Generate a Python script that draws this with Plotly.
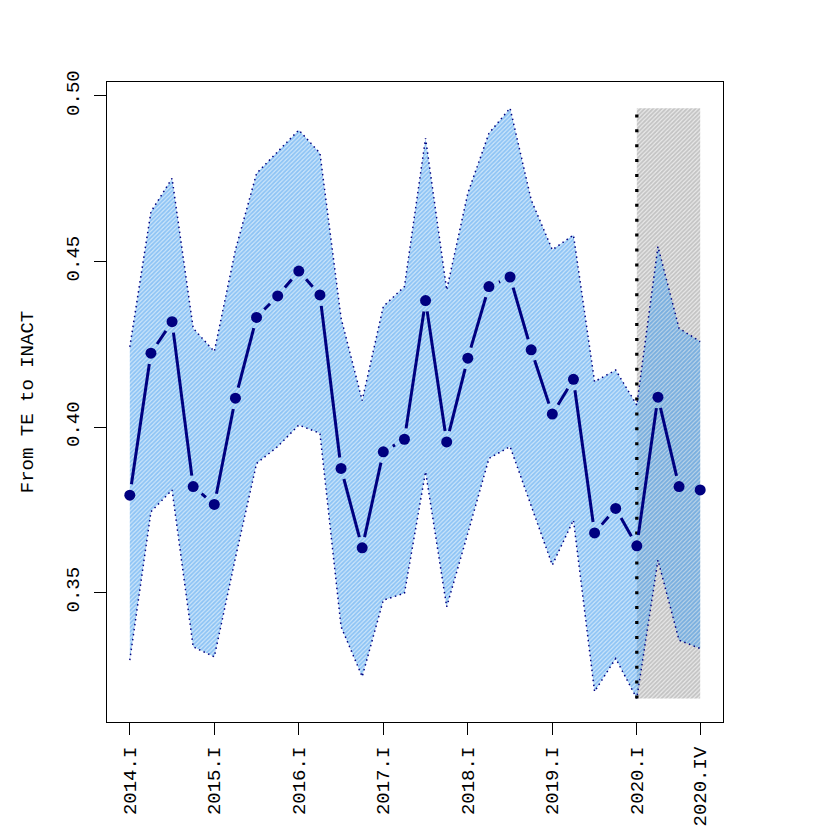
import math
import plotly.graph_objects as go

# ---- data ----
idx = list(range(28))
tick_pos = [0, 4, 8, 12, 16, 20, 24, 27]
tick_labels = ["2014.I", "2015.I", "2016.I", "2017.I", "2018.I", "2019.I", "2020.I", "2020.IV"]

mid = [0.3794, 0.4223, 0.4318, 0.3820, 0.3766, 0.4087, 0.4331, 0.4396, 0.4471, 0.4399,
       0.3875, 0.3635, 0.3925, 0.3963, 0.4382, 0.3955, 0.4208, 0.4424, 0.4453, 0.4233,
       0.4039, 0.4144, 0.3680, 0.3754, 0.3641, 0.4090, 0.3820, 0.3810]
upper = [0.4242, 0.4650, 0.4751, 0.4298, 0.4228, 0.4535, 0.4766, 0.4832, 0.4897, 0.4827,
         0.4329, 0.4080, 0.4364, 0.4424, 0.4872, 0.4414, 0.4706, 0.4887, 0.4963, 0.4686,
         0.4535, 0.4580, 0.4137, 0.4172, 0.4066, 0.4545, 0.4298, 0.4258]
lower = [0.3296, 0.3744, 0.3810, 0.3336, 0.3306, 0.3605, 0.3890, 0.3941, 0.4006, 0.3981,
         0.3397, 0.3246, 0.3477, 0.3498, 0.3865, 0.3457, 0.3679, 0.3905, 0.3941, 0.3760,
         0.3583, 0.3719, 0.3201, 0.3301, 0.3180, 0.3598, 0.3356, 0.3331]
forecast_start = 24
forecast_end = 27
y_title = "From TE to INACT"

# ---- layout geometry (page body has an 8px margin) ----
W, H = 822, 822
ml, mt = 99, 74
pw, ph = 616, 640
mr, mb = W - ml - pw, H - mt - ph
xr = [-1.08, 28.08]
yr = [0.3109, 0.5042]

FONT = "Liberation Mono, Courier New, monospace"
NAVY = "#000080"

fig = go.Figure()

ylo, yhi = min(lower), max(upper)

# forecast shaded rectangle (hatched grey)
fig.add_trace(go.Scatter(
    x=[forecast_start, forecast_end, forecast_end, forecast_start, forecast_start],
    y=[ylo, ylo, yhi, yhi, ylo],
    mode="lines", line=dict(width=0), fill="toself",
    fillcolor="rgba(0,0,0,0)",
    fillpattern=dict(shape="/", fgcolor="#9c9c9c", bgcolor="rgba(150,150,150,0.2)",
                     size=3, solidity=0.6),
    hoverinfo="skip", showlegend=False))

# confidence band (hatched blue)
fig.add_trace(go.Scatter(
    x=idx + idx[::-1], y=upper + lower[::-1],
    mode="lines", line=dict(width=0), fill="toself",
    fillcolor="rgba(0,0,0,0)",
    fillpattern=dict(shape="/", fgcolor="#4ea2f0", bgcolor="rgba(90,170,240,0.3)",
                     size=3, solidity=0.6),
    hoverinfo="skip", showlegend=False))

# dotted band borders
for band in (upper, lower):
    fig.add_trace(go.Scatter(
        x=idx, y=band, mode="lines",
        line=dict(color=NAVY, width=1.5, dash="1.5px,3.5px"),
        hoverinfo="skip", showlegend=False))

# vertical dotted line at forecast start
fig.add_trace(go.Scatter(
    x=[forecast_start, forecast_start], y=[ylo, yhi], mode="lines",
    line=dict(color="black", width=3.3, dash="3px,11.9px"),
    hoverinfo="skip", showlegend=False))

# main line with gaps around points (R type="b")
def to_px(x, y):
    return ((x - xr[0]) / (xr[1] - xr[0]) * pw, (y - yr[0]) / (yr[1] - yr[0]) * ph)

def from_px(px, py):
    return (xr[0] + px / pw * (xr[1] - xr[0]), yr[0] + py / ph * (yr[1] - yr[0]))

gap = 11
sx, sy = [], []
for i in range(len(idx) - 1):
    x0, y0 = to_px(idx[i], mid[i])
    x1, y1 = to_px(idx[i + 1], mid[i + 1])
    d = math.hypot(x1 - x0, y1 - y0)
    if d > 2 * gap:
        ux, uy = (x1 - x0) / d, (y1 - y0) / d
        a = from_px(x0 + ux * gap, y0 + uy * gap)
        b = from_px(x1 - ux * gap, y1 - uy * gap)
        sx += [a[0], b[0], None]
        sy += [a[1], b[1], None]

fig.add_trace(go.Scatter(x=sx, y=sy, mode="lines",
                         line=dict(color=NAVY, width=3),
                         hoverinfo="skip", showlegend=False))
fig.add_trace(go.Scatter(x=idx, y=mid, mode="markers",
                         marker=dict(color=NAVY, size=11, line=dict(width=0)),
                         hoverinfo="skip", showlegend=False))

fig.update_layout(
    width=W, height=H,
    margin=dict(l=ml, r=mr, t=mt, b=mb, autoexpand=False),
    paper_bgcolor="white", plot_bgcolor="white",
    font=dict(family=FONT, size=19, color="black"),
    showlegend=False,
)
fig.update_xaxes(
    range=xr, tickmode="array", tickvals=tick_pos, ticktext=tick_labels,
    tickangle=-90, ticks="outside", ticklen=12, tickwidth=1, tickcolor="black",
    showline=True, linecolor="black", linewidth=1.2, mirror=True,
    showgrid=False, zeroline=False, automargin=False,
    tickfont=dict(family=FONT, size=19, color="black"),
    ticklabelstandoff=4,
)
fig.update_yaxes(
    range=yr, tickmode="array", tickvals=[0.35, 0.40, 0.45, 0.50],
    ticktext=["0.35", "0.40", "0.45", "0.50"],
    tickangle=-90, ticks="outside", ticklen=12, tickwidth=1, tickcolor="black",
    showline=True, linecolor="black", linewidth=1.2, mirror=True,
    showgrid=False, zeroline=False, automargin=False,
    tickfont=dict(family=FONT, size=19, color="black"),
    ticklabelstandoff=7,
    title=dict(text=y_title, font=dict(family=FONT, size=19, color="black"), standoff=24),
)

fig.write_html("out.html")
